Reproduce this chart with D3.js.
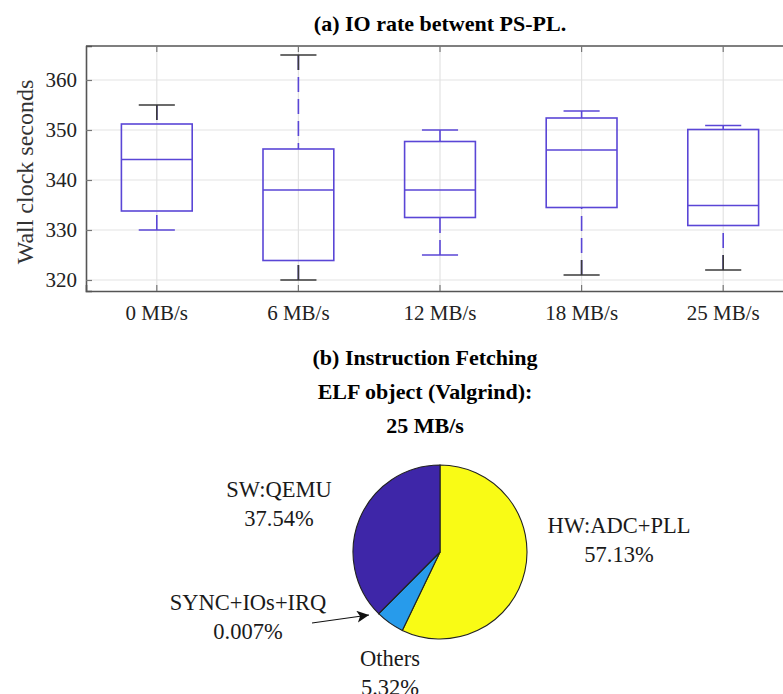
<!DOCTYPE html>
<html lang="en">
<head>
<meta charset="UTF-8">
<title>IO rate and Instruction Fetching</title>
<script src="https://d3js.org/d3.v7.min.js"></script>
<style>
  body { margin: 0; background: #fff; }
  svg { display: block; font-family: "Liberation Serif", serif; }
</style>
</head>
<body>
<svg width="783" height="694"></svg>
<script>
// --- box plot data (a) ---
const categories = ["0 MB/s", "6 MB/s", "12 MB/s", "18 MB/s", "25 MB/s"];
const whiskerLow = [330, 320, 325, 321, 322];
const q1 = [333.8, 323.9, 332.5, 334.5, 330.9];
const median = [344.1, 338.0, 338.0, 346.0, 334.9];
const q3 = [351.2, 346.2, 347.7, 352.4, 350.1];
const whiskerHigh = [355, 365, 350, 353.8, 350.9];
const yTicks = [320, 330, 340, 350, 360];

// --- pie data (b) ---
const sliceLabels = ["HW:ADC+PLL", "Others", "SYNC+IOs+IRQ", "SW:QEMU"];
const slicePercents = [57.13, 5.32, 0.007, 37.54];
const sliceText = ["57.13%", "5.32%", "0.007%", "37.54%"];

const svg = d3.select("svg");
const boxColor = "#5a46d6";
const darkColor = "#3a3a3a";

// plot area
const pLeft = 86, pRight = 794, pTop = 46, pBottom = 291;
const x = d3.scaleBand().domain(categories).range([pLeft, pRight]).padding(0);
const y = d3.scaleLinear().domain([317.8, 366.8]).range([pBottom, pTop]);

svg.append("text")
    .attr("x", 440).attr("y", 31)
    .attr("text-anchor", "middle")
    .style("font-size", "22px").style("font-weight", "bold")
    .text("(a) IO rate betwent PS-PL.");

// grid
const grid = svg.append("g").attr("stroke", "#e3e3e3").attr("stroke-width", 1.2);
grid.selectAll(".gy").data(yTicks).enter().append("line")
    .attr("x1", pLeft).attr("x2", pRight)
    .attr("y1", d => y(d)).attr("y2", d => y(d));
grid.selectAll(".gx").data(categories).enter().append("line")
    .attr("x1", d => x(d) + x.bandwidth() / 2).attr("x2", d => x(d) + x.bandwidth() / 2)
    .attr("y1", pTop).attr("y2", pBottom);

// axes
const yAxis = svg.append("g")
    .attr("transform", `translate(${pLeft},0)`)
    .call(d3.axisLeft(y).tickValues(yTicks).tickSize(-6).tickPadding(9));
const xAxis = svg.append("g")
    .attr("transform", `translate(0,${pBottom})`)
    .call(d3.axisBottom(x).tickSize(-6).tickPadding(14));
const xTop = svg.append("g")
    .attr("transform", `translate(0,${pTop})`)
    .call(d3.axisTop(x).tickSize(-6).tickFormat(""));
[yAxis, xAxis, xTop].forEach(g => {
    g.select(".domain").attr("stroke", "#555").attr("stroke-width", 1.6);
    g.selectAll(".tick line").attr("stroke", "#777").attr("stroke-width", 1.2);
    g.selectAll(".tick text").attr("fill", "#222").style("font-family", "Liberation Serif")
        .style("font-size", "21px");
});
xTop.select(".domain").attr("d", `M${pLeft},0H${pRight}`);

svg.append("text")
    .attr("transform", "translate(33,172) rotate(-90)")
    .attr("text-anchor", "middle")
    .attr("fill", "#333")
    .style("font-size", "24px")
    .text("Wall clock seconds");

// boxes
const boxes = categories.map((c, i) => ({
    c, lo: whiskerLow[i], q1: q1[i], med: median[i], q3: q3[i], hi: whiskerHigh[i]
}));
// cap styling: which caps are drawn dark
const darkHigh = [true, true, false, false, false];
const darkLow = [false, true, false, true, true];
const cx = d => x(d.c) + x.bandwidth() / 2;
const bw = x.bandwidth() * 0.5, cw = x.bandwidth() * 0.255;

const g = svg.append("g");
boxes.forEach((d, i) => {
    const mx = cx(d);
    // whiskers drawn from the cap toward the box so dashes start at the cap
    [[d.hi, d.q3, darkHigh[i]], [d.lo, d.q1, darkLow[i]]].forEach(([capV, boxV, dark]) => {
        g.append("line")
            .attr("x1", mx).attr("x2", mx)
            .attr("y1", y(capV)).attr("y2", y(boxV))
            .attr("stroke", boxColor).attr("stroke-width", 1.6)
            .attr("stroke-dasharray", "15,7");
        if (dark) {
            const dir = y(boxV) > y(capV) ? 1 : -1;
            const len = Math.min(15, Math.abs(y(boxV) - y(capV)));
            g.append("line")
                .attr("x1", mx).attr("x2", mx)
                .attr("y1", y(capV)).attr("y2", y(capV) + dir * len)
                .attr("stroke", darkColor).attr("stroke-width", 1.6);
        }
        g.append("line")
            .attr("x1", mx - cw / 2).attr("x2", mx + cw / 2)
            .attr("y1", y(capV)).attr("y2", y(capV))
            .attr("stroke", dark ? darkColor : boxColor).attr("stroke-width", 1.6);
    });
    g.append("rect")
        .attr("x", mx - bw / 2).attr("width", bw)
        .attr("y", y(d.q3)).attr("height", y(d.q1) - y(d.q3))
        .attr("fill", "none").attr("stroke", boxColor).attr("stroke-width", 1.6);
    g.append("line")
        .attr("x1", mx - bw / 2).attr("x2", mx + bw / 2)
        .attr("y1", y(d.med)).attr("y2", y(d.med))
        .attr("stroke", boxColor).attr("stroke-width", 1.4);
});

// --- (b) pie ---
const titles = ["(b) Instruction Fetching", "ELF object (Valgrind):", "25 MB/s"];
svg.selectAll(".ptitle").data(titles).enter().append("text")
    .attr("x", 425).attr("y", (d, i) => 365 + i * 34)
    .attr("text-anchor", "middle")
    .style("font-size", "22px").style("font-weight", "bold")
    .text(d => d);

const pcx = 440, pcy = 552, radius = 87;
const pieColors = ["#f9fb15", "#279beb", "#a5be6b", "#3e26a8"];
const pie = d3.pie().sort(null).value(d => d)(slicePercents);
const arc = d3.arc().innerRadius(0).outerRadius(radius);
const pg = svg.append("g").attr("transform", `translate(${pcx},${pcy})`);
pg.selectAll("path").data(pie).enter().append("path")
    .attr("d", arc)
    .attr("fill", (d, i) => pieColors[i])
    .attr("stroke", "#222").attr("stroke-width", 1.1);

// label placement offsets relative to pie centre
const labelPos = [[179, -19], [-50, 114], [-192, 58], [-161, -55]];
sliceLabels.forEach((lab, i) => {
    const t = pg.append("text")
        .attr("text-anchor", "middle")
        .attr("fill", "#1a1a1a")
        .style("font-size", "22.5px");
    t.append("tspan").attr("x", labelPos[i][0]).attr("y", labelPos[i][1]).text(lab);
    t.append("tspan").attr("x", labelPos[i][0]).attr("y", labelPos[i][1] + 29).text(sliceText[i]);
});

// arrow to the tiny slice
svg.append("defs").append("marker")
    .attr("id", "ah").attr("viewBox", "0 0 10 10")
    .attr("refX", 10).attr("refY", 5)
    .attr("markerWidth", 16).attr("markerHeight", 12)
    .attr("markerUnits", "userSpaceOnUse")
    .attr("orient", "auto")
    .append("path").attr("d", "M0,0L10,5L0,10L2.5,5Z").attr("fill", "#111");
svg.append("line")
    .attr("x1", 312).attr("y1", 623).attr("x2", 369).attr("y2", 615)
    .attr("stroke", "#111").attr("stroke-width", 1.2)
    .attr("marker-end", "url(#ah)");
</script>
</body>
</html>
